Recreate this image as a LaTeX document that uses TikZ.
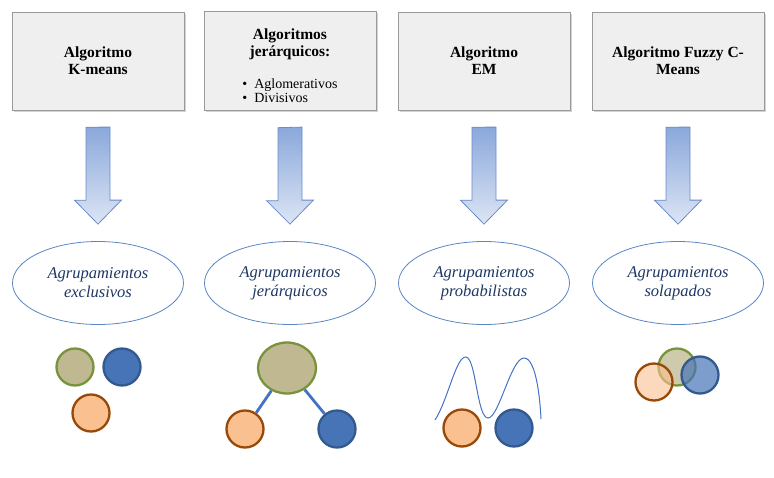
\documentclass[tikz,border=0pt]{standalone}
\usepackage{fontspec}
\setmainfont{Liberation Serif}
\usepackage{xcolor}
\usepackage{tikz}
\usetikzlibrary{shapes,arrows,positioning,shadows}

\definecolor{boxgray}{HTML}{EFEFEF}
\definecolor{boxline}{HTML}{9A9A9A}
\definecolor{ellline}{HTML}{5B86C5}
\definecolor{grptext}{HTML}{1F3864}
\definecolor{arrtop}{HTML}{8BA8DB}
\definecolor{arrbot}{HTML}{DCE5F4}
\definecolor{arrline}{HTML}{6A8CC8}
\definecolor{olivefill}{HTML}{BFB890}
\definecolor{oliveline}{HTML}{77933C}
\definecolor{bluefill}{HTML}{4674B6}
\definecolor{blueline}{HTML}{325A8E}
\definecolor{orangefill}{HTML}{FAC090}
\definecolor{orangeline}{HTML}{984807}
\definecolor{linkblue}{HTML}{4472C4}

\begin{document}
\begin{tikzpicture}[x=1pt,y=-1pt,
    algbox/.style={rectangle, draw=boxline, fill=boxgray, minimum width=172pt,
        minimum height=98pt, align=center, font=\fontsize{15.5}{17}\selectfont\bfseries,
        drop shadow={shadow xshift=1.5pt, shadow yshift=-1.5pt, opacity=0.35}},
    grp/.style={ellipse, draw=ellline, fill=white, line width=0.8pt, minimum width=171pt,
        minimum height=83pt, align=center, text=grptext,
        font=\fontsize{16.5}{19}\selectfont\itshape},
    arrowfill/.style={top color=arrtop, bottom color=arrbot, draw=arrline, line width=0.8pt},
    ball/.style={circle, minimum size=37pt, inner sep=0pt, line width=2.3pt},
    olive/.style={ball, fill=olivefill, draw=oliveline},
    blue/.style={ball, fill=bluefill, draw=blueline},
    orange/.style={ball, fill=orangefill, draw=orangeline}]
  \useasboundingbox (0,0) rectangle (774,477);

  % algorithms
  \node[algbox] (alg1) at (98,61) {Algoritmo\\K-means};
  \node[algbox] (alg2) at (290,61) {\rule{0pt}{25pt}Algoritmos\\jerárquicos:\\[18pt]
      {\fontsize{14}{14}\selectfont\mdseries
      \begin{tabular}{@{}l@{}}\textbullet\ \ Aglomerativos\\\textbullet\ \ Divisivos\end{tabular}}};
  \node[algbox] (alg3) at (484,61) {Algoritmo\\EM};
  \node[algbox] (alg4) at (678,61) {Algoritmo Fuzzy C-\\Means};

  % kinds of clustering
  \node[grp] (grp1) at (98,283) {Agrupamientos\\exclusivos};
  \node[grp] (grp2) at (290,283) {Agrupamientos\\jerárquicos};
  \node[grp] (grp3) at (484,283) {Agrupamientos\\probabilistas};
  \node[grp] (grp4) at (678,283) {Agrupamientos\\solapados};

  \foreach \i in {1,...,4}
    \shade[arrowfill] ([yshift=-17pt]alg\i.south) ++(-12,0) -- ++(0,73) -- ++(-11.5,0)
        -- ([yshift=17pt]grp\i.north) -- ++(23.5,-24) -- ++(-11.5,0) -- ++(0,-73) -- cycle;

  % exclusive
  \node[olive] (ex1) at (75,367) {};
  \node[blue] (ex2) at (122,367) {};
  \node[orange] (ex3) at (91,413) {};

  % hierarchical
  \node[olive, minimum width=58pt, minimum height=51pt, ellipse] (top) at (287,368) {};
  \node[orange] (left) at (245,429) {};
  \node[blue] (right) at (337,429) {};
  \draw[linkblue, line width=2.8pt] (top) -- (left);
  \draw[linkblue, line width=2.8pt] (top) -- (right);

  % probabilistic
  \draw[linkblue, line width=1pt] (435,420) .. controls (448,400) and (456,356) .. (466,357)
      .. controls (476,358) and (477,418) .. (488,418)
      .. controls (499,418) and (511,358) .. (524,358)
      .. controls (536,358) and (540,398) .. (541,419);
  \node[orange] (pr1) at (462,428) {};
  \node[blue] (pr2) at (514,428) {};

  % overlapping
  \node[olive, fill opacity=0.75] (ov1) at (677,367) {};
  \node[orange, fill opacity=0.6] (ov2) at (654,382) {};
  \node[blue, fill opacity=0.7] (ov3) at (700,375) {};
\end{tikzpicture}
\end{document}
